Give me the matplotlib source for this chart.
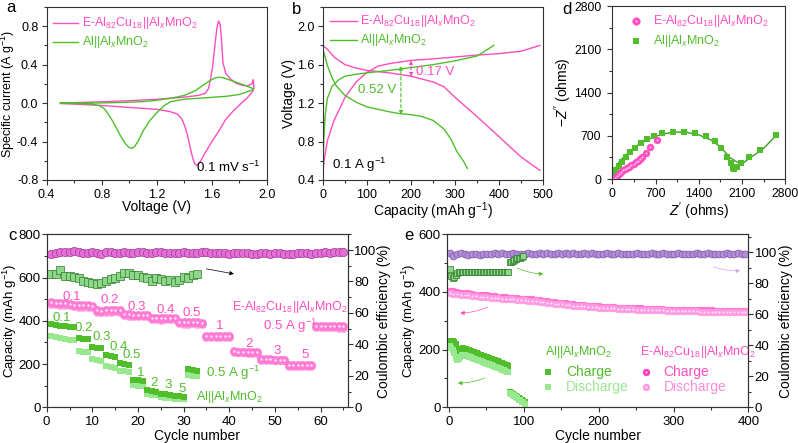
import matplotlib
matplotlib.use("Agg")
import matplotlib.pyplot as plt
from matplotlib.ticker import MultipleLocator

plt.rcParams['font.family'] = ['Liberation Sans', 'DejaVu Sans']
plt.rcParams['mathtext.fontset'] = 'custom'
plt.rcParams['mathtext.rm'] = 'Liberation Sans'
plt.rcParams['mathtext.it'] = 'Liberation Sans:italic'
plt.rcParams['mathtext.bf'] = 'Liberation Sans:bold'
plt.rcParams['axes.unicode_minus'] = False
plt.rcParams['font.size'] = 9
plt.rcParams['axes.linewidth'] = 0.8
plt.rcParams['axes.edgecolor'] = '#333333'

PINK = '#FF4DBE'
LPINK = '#FF9BE2'
GREEN = '#4FBE2A'
LGREEN = '#98E890'
PURPLE = '#B48CDC'
CEPINK = '#E66ED8'

E_LABEL = r'E-Al$_{82}$Cu$_{18}$||Al$_x$MnO$_2$'
AL_LABEL = r'Al||Al$_x$MnO$_2$'

# ---- a: CV curves (V, A/g)
cv_e_v = [0.50, 0.80, 1.00, 1.20, 1.40, 1.50, 1.55, 1.575, 1.59, 1.605, 1.62, 1.635, 1.648,
          1.66, 1.67, 1.68, 1.70, 1.73, 1.77, 1.82, 1.86, 1.89, 1.90, 1.905,
          1.90, 1.86, 1.80, 1.75, 1.70, 1.65, 1.60, 1.55, 1.515, 1.49, 1.475, 1.46, 1.44,
          1.42, 1.40, 1.38, 1.35, 1.30, 1.20, 1.00, 0.80, 0.60, 0.50]
cv_e_i = [0.0, 0.014, 0.025, 0.04, 0.062, 0.08, 0.10, 0.15, 0.25, 0.38, 0.58, 0.77, 0.855,
          0.82, 0.65, 0.42, 0.31, 0.26, 0.21, 0.185, 0.18, 0.20, 0.245, 0.16,
          0.13, 0.06, -0.02, -0.09, -0.17, -0.29, -0.40, -0.52, -0.61, -0.65, -0.63, -0.57, -0.45,
          -0.32, -0.23, -0.16, -0.115, -0.09, -0.065, -0.045, -0.025, -0.01, -0.005]
cv_al_v = [0.50, 0.70, 0.90, 1.10, 1.20, 1.30, 1.40, 1.48, 1.54, 1.58, 1.62, 1.65, 1.68,
           1.72, 1.78, 1.84, 1.90,
           1.90, 1.80, 1.70, 1.60, 1.50, 1.40, 1.30, 1.25, 1.20, 1.15, 1.10, 1.07, 1.04,
           1.02, 1.00, 0.97, 0.94, 0.91, 0.88, 0.85, 0.82, 0.78, 0.72, 0.60, 0.50]
cv_al_i = [0.0, 0.0, 0.005, 0.015, 0.03, 0.05, 0.08, 0.13, 0.19, 0.23, 0.26, 0.27, 0.265,
           0.245, 0.215, 0.185, 0.15,
           0.14, 0.09, 0.07, 0.06, 0.05, 0.04, 0.015, -0.03, -0.10, -0.18, -0.29, -0.38, -0.45,
           -0.47, -0.465, -0.42, -0.35, -0.27, -0.19, -0.12, -0.06, -0.025, -0.01, -0.004, 0.0]

# ---- b: charge/discharge curves (mAh/g, V)
gcd_e_chg_c = [0, 3, 10, 25, 50, 75, 100, 125, 150, 200, 250, 300, 350, 400, 450, 493]
gcd_e_chg_v = [0.50, 0.62, 0.81, 1.02, 1.26, 1.42, 1.52, 1.585, 1.61, 1.645, 1.66, 1.68, 1.70, 1.715, 1.74, 1.80]
gcd_e_dis_c = [0, 10, 25, 50, 75, 100, 150, 200, 250, 275, 300, 350, 400, 450, 493]
gcd_e_dis_v = [1.80, 1.76, 1.68, 1.60, 1.565, 1.54, 1.515, 1.48, 1.42, 1.37, 1.26, 1.06, 0.85, 0.64, 0.50]
gcd_al_chg_c = [0, 2, 5, 10, 20, 35, 50, 75, 100, 150, 200, 250, 300, 350, 388]
gcd_al_chg_v = [0.55, 0.85, 1.08, 1.25, 1.37, 1.44, 1.48, 1.50, 1.515, 1.54, 1.57, 1.60, 1.64, 1.69, 1.80]
gcd_al_dis_c = [0, 10, 20, 30, 50, 75, 100, 150, 175, 200, 225, 250, 275, 290, 305, 320, 328]
gcd_al_dis_v = [1.76, 1.59, 1.47, 1.38, 1.28, 1.21, 1.16, 1.11, 1.09, 1.08, 1.06, 1.02, 0.93, 0.83, 0.69, 0.59, 0.52]

# ---- d: Nyquist (ohms)
eis_e_re = [0, 16, 40, 76, 110, 146, 180, 210, 245, 275, 310, 345, 380, 410, 445, 480, 545, 604, 717]
eis_e_im = [0, 5, 20, 45, 85, 118, 138, 157, 178, 199, 222, 243, 270, 296, 322, 351, 415, 513, 631]
eis_al_re = [0, 10, 22, 40, 60, 103, 157, 221, 291, 372, 469, 561, 669, 803, 976, 1153, 1341,
             1519, 1664, 1761, 1858, 1928, 1955, 1976, 2019, 2084, 2208, 2396, 2655]
eis_al_im = [0, 30, 65, 105, 145, 210, 280, 361, 431, 507, 578, 642, 696, 739, 765, 765, 739,
             696, 620, 496, 361, 254, 183, 156, 200, 254, 361, 469, 712]
fit_al_re = [0, 15, 40, 120, 250, 400, 600, 800, 1000, 1200, 1400, 1600, 1750, 1900, 2000, 2100,
             2200, 2300, 2450, 2660]
fit_al_im = [0, 90, 160, 290, 420, 540, 650, 725, 760, 755, 715, 630, 520, 350, 285, 243,
             320, 390, 496, 715]

# ---- c: rate performance
cyc_c_e = list(range(1, 66))
cap_c_e_chg = [486, 484, 482, 480, 478, 474, 472, 472, 471, 470,
               449, 447, 448, 450, 452, 450,
               431, 430, 428, 427, 427, 426,
               415, 413, 411, 413, 415, 413,
               395, 393, 393, 394, 393, 392,
               330, 330, 329, 329, 329, 328,
               259, 258, 258, 257, 257, 257,
               223, 222, 222, 221, 221, 221,
               196, 195, 195, 194, 194, 194,
               378, 377, 376, 376, 375, 374, 374]
cap_c_e_dis = [478, 476, 474, 473, 471, 467, 465, 465, 464, 463,
               442, 440, 441, 443, 445, 443,
               425, 424, 422, 421, 421, 420,
               409, 407, 405, 407, 409, 407,
               389, 387, 387, 388, 387, 386,
               325, 325, 324, 324, 324, 323,
               255, 254, 254, 253, 253, 253,
               219, 218, 218, 217, 217, 217,
               192, 191, 191, 190, 190, 190,
               373, 372, 371, 371, 370, 369, 369]
ce_c_e = [97.5, 98.0, 98.5, 98.8, 99.0, 99.3, 98.5, 97.8, 98.3, 98.6,
          98.0, 97.5, 98.8, 98.5, 97.8, 98.4, 98.6, 98.2, 97.9, 98.5,
          98.7, 98.3, 98.0, 98.6, 98.8, 98.4, 98.1, 97.9, 98.3, 98.6,
          98.2, 97.8, 98.4, 98.9, 98.6, 98.1, 97.8, 98.0, 98.3, 97.7,
          98.0, 97.9, 98.0, 97.8, 97.6, 97.7, 97.9, 97.8, 97.6, 97.9,
          98.0, 97.7, 97.5, 97.2, 97.8, 98.1, 98.0, 97.6, 97.9, 98.3,
          98.6, 98.4, 98.7, 98.9, 99.0]
cyc_c_al = list(range(1, 34))
cap_c_al_chg = [385, 380, 378, 375, 372, 370,
                320, 318, 316,
                280, 276, 272,
                243, 238, 234,
                205, 200, 196,
                127, 124, 122,
                78, 75, 72,
                63, 60, 58,
                52, 50, 49,
                178, 172, 168]
cap_c_al_dis = [328, 325, 320, 316, 313, 310,
                262, 258, 255,
                222, 218, 214,
                192, 188, 184,
                170, 166, 163,
                103, 100, 98,
                60, 58, 56,
                47, 45, 44,
                40, 39, 38,
                150, 146, 143]
ce_c_al = [85.0, 85.0, 87.3, 83.7, 83.3, 83.0, 82.0, 80.5, 79.6, 79.0,
           78.4, 79.0, 80.5, 81.5, 82.5, 83.5, 85.4, 85.4, 84.0, 84.0,
           83.0, 82.0, 80.5, 82.0, 81.3, 80.0, 81.0, 79.4, 81.0, 83.0,
           82.0, 84.0, 85.0]
rate_e_lbl = ['0.1', '0.2', '0.3', '0.4', '0.5', '1', '2', '3', '5']
rate_e_x = [5.5, 13.9, 19.8, 26.0, 31.8, 38.0, 44.3, 50.5, 56.7]
rate_e_y = [512, 494, 465, 450, 436, 376, 293, 262, 242]
rate_al_lbl = ['0.1', '0.2', '0.3', '0.4', '0.5', '1', '2', '3', '5']
rate_al_x = [3.3, 8.0, 12.0, 15.7, 18.7, 20.5, 23.5, 26.7, 29.6]
rate_al_y = [411, 365, 324, 280, 242, 157, 111, 103, 85]

# ---- e: long cycling at 0.5 A/g
cyc_e_e = list(range(1, 401, 5))
cap_e_e_chg = [405, 402, 400, 398, 396, 395, 393, 391, 390, 389,
               388, 386, 385, 384, 382, 381, 380, 379, 378, 377,
               376, 375, 374, 372, 371, 369, 367, 365, 364, 362,
               361, 360, 358, 357, 356, 355, 354, 353, 352, 351,
               350, 349, 348, 348, 347, 346, 346, 345, 344, 344,
               343, 343, 342, 342, 341, 341, 340, 340, 339, 339,
               339, 338, 338, 338, 337, 337, 337, 336, 336, 336,
               336, 335, 335, 335, 334, 334, 334, 334, 333, 333]
cap_e_e_dis = [398, 393, 392, 391, 389, 388, 386, 385, 384, 383,
               382, 380, 379, 378, 377, 376, 375, 374, 373, 372,
               371, 370, 369, 367, 366, 364, 362, 361, 359, 358,
               357, 356, 354, 353, 352, 351, 350, 349, 348, 347,
               346, 345, 344, 344, 343, 342, 342, 341, 340, 340,
               339, 339, 338, 338, 337, 337, 336, 336, 335, 335,
               335, 334, 334, 334, 333, 333, 333, 332, 332, 332,
               332, 331, 331, 331, 330, 330, 330, 330, 329, 329]
ce_e_e = [99.6, 97.8, 98.8, 99.5, 98.6, 98.2, 99.2, 98.7, 98.4, 99.1,
          98.8, 99.0, 99.3, 99.0, 99.3, 98.9, 99.1, 99.4, 99.0, 99.2,
          99.1, 99.3, 99.0, 99.2, 99.4, 99.1, 99.3, 99.2, 99.0, 99.3,
          99.2, 99.4, 99.1, 99.3, 99.2, 99.0, 99.3, 99.2, 99.4, 99.1,
          99.2, 99.0, 99.3, 99.1, 99.2, 99.3, 99.1, 99.2, 99.0, 99.2,
          99.3, 99.1, 99.2, 99.0, 99.3, 99.2, 99.1, 99.3, 99.2, 99.0,
          99.2, 99.3, 99.1, 99.2, 99.0, 99.2, 99.3, 99.1, 99.2, 99.3,
          99.1, 99.2, 99.0, 99.2, 99.3, 99.1, 99.2, 99.3, 99.2, 99.1]
cyc_e_al = list(range(1, 81, 2))
cap_e_al_chg = [231, 230, 229, 227, 221, 200, 195, 199, 203, 205,
                203, 201, 199, 197, 195, 193, 191, 189, 187, 185,
                183, 181, 179, 177, 175, 173, 171, 169, 167, 165,
                163, 161, 159, 157, 155, 152, 150, 148, 146, 143]
cap_e_al_dis = [212, 205, 197, 188, 172, 164, 166, 174, 180, 182,
                181, 179, 177, 175, 173, 171, 169, 167, 165, 163,
                161, 159, 157, 155, 153, 151, 149, 147, 145, 143,
                141, 139, 137, 135, 133, 131, 129, 126, 124, 121]
ce_e_al = [89.5, 85.0, 83.5, 84.0, 85.5, 86.5, 87.0, 87.5, 87.2, 87.6,
           87.4, 87.5, 87.3, 87.6, 87.5, 87.4, 87.6, 87.3, 87.5, 87.4,
           87.6, 87.5, 87.4, 87.3, 87.5, 87.6, 87.4, 87.5, 87.3, 87.5,
           87.6, 87.4, 87.5, 87.3, 87.6, 87.5, 87.4, 87.5, 87.3, 87.4]
cyc_e_al2 = list(range(81, 103, 2))
cap_e_al2_chg = [54, 50, 46, 42, 38, 35, 31, 28, 24, 21, 17]
cap_e_al2_dis = [50, 46, 42, 38, 34, 31, 27, 24, 20, 17, 13]
cyc_e_al2_ce = list(range(81, 101, 2))
ce_e_al2 = [93.5, 94.0, 94.5, 95.0, 95.5, 96.0, 96.3, 96.6, 97.0, 97.3]

LAB = 10


def style(ax, xmaj, xmin, ymaj, ymin, xpad=3, ypad=3.5, size=9.5):
    ax.xaxis.set_major_locator(MultipleLocator(xmaj))
    ax.xaxis.set_minor_locator(MultipleLocator(xmin))
    ax.yaxis.set_major_locator(MultipleLocator(ymaj))
    ax.yaxis.set_minor_locator(MultipleLocator(ymin))
    ax.tick_params(which='both', direction='out', labelsize=size, width=0.8, color='#333333')
    ax.tick_params(which='major', length=3.5)
    ax.tick_params(which='minor', length=2)
    ax.tick_params(axis='x', which='both', pad=xpad)
    ax.tick_params(axis='y', which='both', pad=ypad)


def sphere(ax, x, y, col, hi, ms, **kw):
    ax.plot(x, y, 'o', color=col, ms=ms, mec=col, mew=0.3, ls='none', **kw)
    ax.plot(x, y, 'o', color=hi, ms=ms * 0.3, mew=0, ls='none', **kw)


fig = plt.figure(figsize=(7.98, 4.43), dpi=100)

# ===== a
ax = fig.add_axes([0.0585, 0.5937, 0.2761, 0.3905])
ax.plot(cv_e_v, cv_e_i, color=PINK, lw=1.0)
ax.plot(cv_al_v, cv_al_i, color=GREEN, lw=1.0)
ax.set_xlim(0.4, 2.0)
ax.set_ylim(-0.8, 1.0)
style(ax, 0.4, 0.2, 0.4, 0.2, xpad=3, ypad=2.5, size=9)
ax.set_yticks([-0.8, -0.4, 0.0, 0.4, 0.8])
ax.set_xlabel('Voltage (V)', fontsize=LAB)
ax.set_ylabel(r'Specific current (A g$^{-1}$)', fontsize=9)
ax.xaxis.set_label_coords(0.5, -0.118)
ax.yaxis.set_label_coords(-0.134, 0.5)
ax.plot([0.03, 0.144], [0.907, 0.907], color=PINK, lw=1.0, transform=ax.transAxes)
ax.text(0.159, 0.907, E_LABEL, color=PINK, transform=ax.transAxes, va='center', fontsize=9)
ax.plot([0.03, 0.144], [0.798, 0.798], color=GREEN, lw=1.0, transform=ax.transAxes)
ax.text(0.159, 0.798, AL_LABEL, color=GREEN, transform=ax.transAxes, va='center', fontsize=9)
ax.text(1.95, -0.665, r'0.1 mV s$^{-1}$', ha='right', va='center', fontsize=9.5)

# ===== b
ax = fig.add_axes([0.4048, 0.5937, 0.2757, 0.3905])
ax.plot(gcd_e_chg_c, gcd_e_chg_v, color=PINK, lw=1.0)
ax.plot(gcd_e_dis_c, gcd_e_dis_v, color=PINK, lw=1.0)
ax.plot(gcd_al_chg_c, gcd_al_chg_v, color=GREEN, lw=1.0)
ax.plot(gcd_al_dis_c, gcd_al_dis_v, color=GREEN, lw=1.0)
ax.set_xlim(0, 500)
ax.set_ylim(0.4, 2.2)
style(ax, 100, 50, 0.4, 0.2, xpad=3, ypad=2.5, size=9)
ax.set_yticks([0.4, 0.8, 1.2, 1.6, 2.0])
ax.set_xlabel(r'Capacity (mAh g$^{-1}$)', fontsize=LAB)
ax.set_ylabel('Voltage (V)', fontsize=LAB)
ax.xaxis.set_label_coords(0.5, -0.118)
ax.yaxis.set_label_coords(-0.125, 0.5)
ax.plot([0.032, 0.155], [0.919, 0.919], color=PINK, lw=1.0, transform=ax.transAxes)
ax.text(0.168, 0.919, E_LABEL, color=PINK, transform=ax.transAxes, va='center', fontsize=9)
ax.plot([0.032, 0.155], [0.809, 0.809], color=GREEN, lw=1.0, transform=ax.transAxes)
ax.text(0.168, 0.809, AL_LABEL, color=GREEN, transform=ax.transAxes, va='center', fontsize=9)
ax.annotate('', xy=(200, 1.645), xytext=(200, 1.475),
            arrowprops=dict(arrowstyle='<|-|>', ls=(0, (3, 2)), color=PINK, lw=0.8,
                            shrinkA=0, shrinkB=0, mutation_scale=5))
ax.annotate('', xy=(177, 1.585), xytext=(177, 1.08),
            arrowprops=dict(arrowstyle='<|-|>', ls=(0, (3, 2)), color=GREEN, lw=0.8,
                            shrinkA=0, shrinkB=0, mutation_scale=5))
ax.text(212, 1.525, '0.17 V', color=PINK, va='center', fontsize=9.5)
ax.text(166, 1.335, '0.52 V', color=GREEN, va='center', ha='right', fontsize=9.5)
ax.text(20, 0.556, r'0.1 A g$^{-1}$', va='center', fontsize=9.5)

# ===== d
ax = fig.add_axes([0.7673, 0.5959, 0.2168, 0.3905])
ax.plot(fit_al_re, fit_al_im, color='#3A9E22', lw=1.0)
ax.plot(eis_al_re, eis_al_im, 's', color=GREEN, ms=4.5, mew=0)
sphere(ax, eis_e_re, eis_e_im, PINK, '#FFC4EC', 5)
ax.set_xlim(0, 2800)
ax.set_ylim(0, 2800)
style(ax, 700, 350, 700, 350, xpad=3, ypad=4.5, size=8.7)
ax.set_xlabel(r"$Z'$ (ohms)", fontsize=LAB)
ax.set_ylabel(r"$-Z''$ (ohms)", fontsize=LAB)
ax.xaxis.set_label_coords(0.5, -0.121)
ax.yaxis.set_label_coords(-0.222, 0.5)
sphere(ax, [0.137], [0.913], PINK, '#FFC4EC', 5.5, transform=ax.transAxes, clip_on=False)
ax.text(0.237, 0.913, E_LABEL, color=PINK, transform=ax.transAxes, va='center', fontsize=9)
ax.plot([0.137], [0.8], 's', color=GREEN, ms=5, mew=0, transform=ax.transAxes)
ax.text(0.237, 0.8, AL_LABEL, color=GREEN, transform=ax.transAxes, va='center', fontsize=9)

# ===== c
ax = fig.add_axes([0.0585, 0.0806, 0.3776, 0.3905])
axr = ax.twinx()
ax.plot(cyc_c_al, cap_c_al_dis, 's', color=LGREEN, ms=5, mew=0, zorder=3)
ax.plot(cyc_c_al, cap_c_al_chg, 's', color=GREEN, ms=5, mew=0, zorder=3)
sphere(ax, cyc_c_e, cap_c_e_dis, LPINK, '#FFE6F8', 6, zorder=3)
sphere(ax, cyc_c_e, cap_c_e_chg, '#FF7AD2', '#FFE6F8', 6, zorder=3)
axr.plot(cyc_c_e, ce_c_e, 'o', color=CEPINK, mec='#9E3C94', mew=0.5, ms=6)
axr.plot(cyc_c_al, ce_c_al, 's', color='#8ED68A', mec='#2F7A2A', mew=0.5, ms=5.5)
ax.set_xlim(0, 66)
ax.set_ylim(0, 800)
axr.set_ylim(0, 110)
style(ax, 10, 5, 200, 100, xpad=2.5, ypad=1)
style(axr, 10, 5, 20, 10, xpad=2.5, ypad=1)
ax.set_xlabel('Cycle number', fontsize=LAB)
ax.set_ylabel(r'Capacity (mAh g$^{-1}$)', fontsize=9.5)
axr.set_ylabel('Coulombic efficiency (%)', fontsize=LAB)
ax.xaxis.set_label_coords(0.5, -0.126)
ax.yaxis.set_label_coords(-0.093, 0.5)
axr.yaxis.set_label_coords(1.096, 0.5)
for t, x, y in zip(rate_e_lbl, rate_e_x, rate_e_y):
    ax.text(x, y, t, color=PINK, ha='center', va='center', fontsize=9.5)
for t, x, y in zip(rate_al_lbl, rate_al_x, rate_al_y):
    ax.text(x, y, t, color=GREEN, ha='center', va='center', fontsize=9.5)
ax.text(66, 465, E_LABEL, color=PINK, ha='right', va='center', fontsize=9)
ax.text(59.3, 377, r'0.5 A g$^{-1}$', color=PINK, ha='right', va='center', fontsize=9.5)
ax.text(35.0, 157, r'0.5 A g$^{-1}$', color=GREEN, ha='left', va='center', fontsize=9.5)
ax.text(32.6, 49, AL_LABEL, color=GREEN, ha='left', va='center', fontsize=9)
ax.annotate('', xy=(41, 617), xytext=(35, 640),
            arrowprops=dict(arrowstyle='-|>', color='black', lw=0.5, mutation_scale=6,
                            shrinkA=0, shrinkB=0))

# ===== e
ax = fig.add_axes([0.5598, 0.0806, 0.378, 0.3905])
axr = ax.twinx()
ax.plot(cyc_e_al, cap_e_al_chg, 's', color=GREEN, ms=4, mew=0, zorder=3)
ax.plot(cyc_e_al, cap_e_al_dis, 's', color=LGREEN, ms=4, mew=0, zorder=3)
ax.plot(cyc_e_al2, cap_e_al2_chg, 's', color=GREEN, ms=4, mew=0, zorder=3)
ax.plot(cyc_e_al2, cap_e_al2_dis, 's', color=LGREEN, ms=4, mew=0, zorder=3)
sphere(ax, cyc_e_e, cap_e_e_chg, '#FF6CCB', '#FFE0F6', 5, zorder=3)
sphere(ax, cyc_e_e, cap_e_e_dis, LPINK, '#FFE6F8', 5, zorder=3)
axr.plot(cyc_e_e, ce_e_e, 'o', color=PURPLE, mec='#7A5A9E', mew=0.5, ms=5)
axr.plot(cyc_e_al, ce_e_al, 's', color='#8ED68A', mec='#2F7A2A', mew=0.5, ms=4.5)
axr.plot(cyc_e_al2_ce, ce_e_al2, 's', color='#8ED68A', mec='#2F7A2A', mew=0.5, ms=4.5)
ax.set_xlim(-3, 400)
ax.set_ylim(0, 600)
axr.set_ylim(0, 111.6)
style(ax, 100, 50, 200, 100, xpad=2.5, ypad=1)
style(axr, 100, 50, 20, 10, xpad=2.5, ypad=1)
ax.set_xlabel('Cycle number', fontsize=LAB)
ax.set_ylabel(r'Capacity (mAh g$^{-1}$)', fontsize=9.5)
axr.set_ylabel('Coulombic efficiency (%)', fontsize=LAB)
ax.xaxis.set_label_coords(0.5, -0.126)
ax.yaxis.set_label_coords(-0.095, 0.5)
axr.yaxis.set_label_coords(1.103, 0.5)
axr.annotate('', xy=(126, 86.0), xytext=(91, 89.9),
             arrowprops=dict(arrowstyle='-|>', color=GREEN, lw=0.5, mutation_scale=6,
                             shrinkA=0, shrinkB=0, connectionstyle='arc3,rad=0.1'))
axr.annotate('', xy=(389, 88.1), xytext=(353, 90.7),
             arrowprops=dict(arrowstyle='-|>', color='#C9A8F0', lw=0.5, mutation_scale=6,
                             shrinkA=0, shrinkB=0, connectionstyle='arc3,rad=0.1'))
ax.annotate('', xy=(15, 327), xytext=(52, 348),
            arrowprops=dict(arrowstyle='-|>', color=PINK, lw=0.5, mutation_scale=6,
                            shrinkA=0, shrinkB=0, connectionstyle='arc3,rad=-0.1'))
ax.annotate('', xy=(12, 84), xytext=(48, 102),
            arrowprops=dict(arrowstyle='-|>', color=GREEN, lw=0.5, mutation_scale=6,
                            shrinkA=0, shrinkB=0, connectionstyle='arc3,rad=-0.1'))
ax.text(0.326, 0.321, AL_LABEL, color=GREEN, transform=ax.transAxes, va='center', fontsize=9)
ax.plot([0.337], [0.202], 's', color=GREEN, ms=4.5, mew=0, transform=ax.transAxes)
ax.plot([0.337], [0.119], 's', color=LGREEN, ms=4.5, mew=0, transform=ax.transAxes)
ax.text(0.395, 0.202, 'Charge', color=GREEN, transform=ax.transAxes, va='center', fontsize=10)
ax.text(0.395, 0.119, 'Discharge', color=LGREEN, transform=ax.transAxes, va='center', fontsize=10)
ax.text(0.641, 0.321, E_LABEL, color=PINK, transform=ax.transAxes, va='center', fontsize=9)
sphere(ax, [0.661], [0.202], '#FF3DB8', '#FFD0F0', 5, transform=ax.transAxes)
sphere(ax, [0.661], [0.119], LPINK, '#FFE6F8', 5, transform=ax.transAxes)
ax.text(0.719, 0.202, 'Charge', color=PINK, transform=ax.transAxes, va='center', fontsize=10)
ax.text(0.719, 0.119, 'Discharge', color='#FF8ADC', transform=ax.transAxes, va='center', fontsize=10)

# panel letters
for s, x, y in [('a', 6, 8), ('b', 292, 9), ('d', 562, 9), ('c', 8, 236), ('e', 404, 236)]:
    fig.text(x / 798, 1 - y / 443, s, fontsize=12, va='center', ha='left')

fig.savefig('out.png', dpi=100)
